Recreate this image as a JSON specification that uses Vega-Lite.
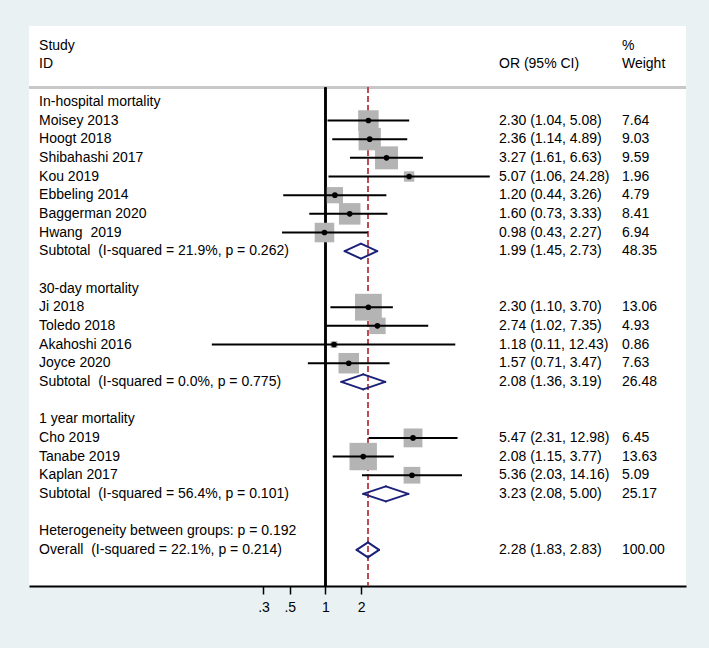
{
  "$schema": "https://vega.github.io/schema/vega-lite/v6.json",
  "width": 657,
  "height": 560,
  "autosize": {"type": "none"},
  "padding": {"left": 29, "top": 26, "right": 23, "bottom": 62},
  "background": "#eaf1f3",
  "config": {
    "view": {"fill": "white", "stroke": null},
    "text": {"font": "Liberation Sans", "fontSize": 14, "color": "#000000", "baseline": "middle", "align": "left"},
    "axis": {"labelFontSize": 14, "labelFont": "Liberation Sans"},
    "axisX": {"grid": false, "title": null,
              "labelExpr": "datum.value < 1 ? substring(format(datum.value, '.1f'), 1) : format(datum.value, 'd')",
              "domainColor": "#000000", "domainWidth": 2, "tickColor": "#000000", "tickWidth": 1.5, "tickSize": 8,
              "labelFont": "Liberation Sans", "labelFontSize": 14, "labelColor": "#000000", "labelPadding": 6, "labelFlush": false}
  },
  "data": {
    "values": [
      {"row": -3, "type": "header", "label": "Study", "ortext": "", "wtext": "%"},
      {"row": -2, "type": "header", "label": "ID", "ortext": "OR (95% CI)", "wtext": "Weight"},
      {"row": 0, "type": "group", "label": "In-hospital mortality", "ortext": "", "wtext": ""},
      {"row": 1, "type": "study", "label": "Moisey 2013", "or": 2.30, "lcl": 1.04, "ucl": 5.08, "weight": 7.64, "ortext": "2.30 (1.04, 5.08)", "wtext": "7.64"},
      {"row": 2, "type": "study", "label": "Hoogt 2018", "or": 2.36, "lcl": 1.14, "ucl": 4.89, "weight": 9.03, "ortext": "2.36 (1.14, 4.89)", "wtext": "9.03"},
      {"row": 3, "type": "study", "label": "Shibahashi 2017", "or": 3.27, "lcl": 1.61, "ucl": 6.63, "weight": 9.59, "ortext": "3.27 (1.61, 6.63)", "wtext": "9.59"},
      {"row": 4, "type": "study", "label": "Kou 2019", "or": 5.07, "lcl": 1.06, "ucl": 24.28, "weight": 1.96, "ortext": "5.07 (1.06, 24.28)", "wtext": "1.96"},
      {"row": 5, "type": "study", "label": "Ebbeling 2014", "or": 1.20, "lcl": 0.44, "ucl": 3.26, "weight": 4.79, "ortext": "1.20 (0.44, 3.26)", "wtext": "4.79"},
      {"row": 6, "type": "study", "label": "Baggerman 2020", "or": 1.60, "lcl": 0.73, "ucl": 3.33, "weight": 8.41, "ortext": "1.60 (0.73, 3.33)", "wtext": "8.41"},
      {"row": 7, "type": "study", "label": "Hwang\u00a0 2019", "or": 0.98, "lcl": 0.43, "ucl": 2.27, "weight": 6.94, "ortext": "0.98 (0.43, 2.27)", "wtext": "6.94"},
      {"row": 8, "type": "sub", "label": "Subtotal\u00a0 (I-squared = 21.9%, p = 0.262)", "or": 1.99, "lcl": 1.45, "ucl": 2.73, "weight": 48.35, "ortext": "1.99 (1.45, 2.73)", "wtext": "48.35"},
      {"row": 10, "type": "group", "label": "30-day mortality", "ortext": "", "wtext": ""},
      {"row": 11, "type": "study", "label": "Ji 2018", "or": 2.30, "lcl": 1.10, "ucl": 3.70, "weight": 13.06, "ortext": "2.30 (1.10, 3.70)", "wtext": "13.06"},
      {"row": 12, "type": "study", "label": "Toledo 2018", "or": 2.74, "lcl": 1.02, "ucl": 7.35, "weight": 4.93, "ortext": "2.74 (1.02, 7.35)", "wtext": "4.93"},
      {"row": 13, "type": "study", "label": "Akahoshi 2016", "or": 1.18, "lcl": 0.11, "ucl": 12.43, "weight": 0.86, "ortext": "1.18 (0.11, 12.43)", "wtext": "0.86"},
      {"row": 14, "type": "study", "label": "Joyce 2020", "or": 1.57, "lcl": 0.71, "ucl": 3.47, "weight": 7.63, "ortext": "1.57 (0.71, 3.47)", "wtext": "7.63"},
      {"row": 15, "type": "sub", "label": "Subtotal\u00a0 (I-squared = 0.0%, p = 0.775)", "or": 2.08, "lcl": 1.36, "ucl": 3.19, "weight": 26.48, "ortext": "2.08 (1.36, 3.19)", "wtext": "26.48"},
      {"row": 17, "type": "group", "label": "1 year mortality", "ortext": "", "wtext": ""},
      {"row": 18, "type": "study", "label": "Cho 2019", "or": 5.47, "lcl": 2.31, "ucl": 12.98, "weight": 6.45, "ortext": "5.47 (2.31, 12.98)", "wtext": "6.45"},
      {"row": 19, "type": "study", "label": "Tanabe 2019", "or": 2.08, "lcl": 1.15, "ucl": 3.77, "weight": 13.63, "ortext": "2.08 (1.15, 3.77)", "wtext": "13.63"},
      {"row": 20, "type": "study", "label": "Kaplan 2017", "or": 5.36, "lcl": 2.03, "ucl": 14.16, "weight": 5.09, "ortext": "5.36 (2.03, 14.16)", "wtext": "5.09"},
      {"row": 21, "type": "sub", "label": "Subtotal\u00a0 (I-squared = 56.4%, p = 0.101)", "or": 3.23, "lcl": 2.08, "ucl": 5.00, "weight": 25.17, "ortext": "3.23 (2.08, 5.00)", "wtext": "25.17"},
      {"row": 23, "type": "het", "label": "Heterogeneity between groups: p = 0.192", "ortext": "", "wtext": ""},
      {"row": 24, "type": "overall", "label": "Overall\u00a0 (I-squared = 22.1%, p = 0.214)", "or": 2.28, "lcl": 1.83, "ucl": 2.83, "weight": 100.0, "ortext": "2.28 (1.83, 2.83)", "wtext": "100.00"}
    ]
  },
  "layer": [
    {
      "mark": {"type": "rule", "color": "#c8c8c8", "strokeWidth": 1.5},
      "encoding": {
        "y": {"datum": -0.77, "type": "quantitative", "scale": {"domain": [-4.062, 25.933], "reverse": true, "nice": false, "zero": false}, "axis": null}
      }
    },
    {
      "mark": {"type": "rule", "color": "#000000", "strokeWidth": 1.2},
      "encoding": {
        "x": {"datum": 1, "type": "quantitative",
              "scale": {"type": "log", "domain": [0.0031597, 1096.63], "nice": false, "zero": false},
              "axis": {"values": [0.3, 0.5, 1, 2], "title": null, "labelFontSize": 14}},
        "y": {"datum": -0.77, "type": "quantitative", "axis": null},
        "y2": {"datum": 25.933}
      }
    },
    {
      "mark": {"type": "rule", "color": "#bd4c55", "strokeWidth": 1.5, "strokeDash": [5, 4]},
      "encoding": {
        "x": {"datum": 2.28, "type": "quantitative", "axis": {"values": [0.3, 0.5, 1, 2], "title": null, "labelFontSize": 14}},
        "y": {"datum": -0.77, "type": "quantitative", "axis": null},
        "y2": {"datum": 25.933}
      }
    },
    {
      "transform": [{"filter": "datum.type === 'study'"}],
      "mark": {"type": "square", "filled": true, "color": "#b4b4b4", "opacity": 1},
      "encoding": {
        "x": {"field": "or", "type": "quantitative", "axis": {"values": [0.3, 0.5, 1, 2], "title": null, "labelFontSize": 14}},
        "y": {"field": "row", "type": "quantitative", "axis": null},
        "size": {"field": "weight", "type": "quantitative", "scale": {"domain": [0, 13.63], "range": [0, 750], "zero": true}, "legend": null}
      }
    },
    {
      "transform": [{"filter": "datum.type === 'study'"}],
      "mark": {"type": "rule", "color": "#000000", "strokeWidth": 2},
      "encoding": {
        "x": {"field": "lcl", "type": "quantitative", "axis": {"values": [0.3, 0.5, 1, 2], "title": null, "labelFontSize": 14}},
        "x2": {"field": "ucl"},
        "y": {"field": "row", "type": "quantitative", "axis": null}
      }
    },
    {
      "transform": [{"filter": "datum.type === 'study'"}],
      "mark": {"type": "circle", "color": "#000000", "size": 32, "opacity": 1},
      "encoding": {
        "x": {"field": "or", "type": "quantitative", "axis": {"values": [0.3, 0.5, 1, 2], "title": null, "labelFontSize": 14}},
        "y": {"field": "row", "type": "quantitative", "axis": null}
      }
    },
    {
      "transform": [{"filter": "datum.type === 'sub' || datum.type === 'overall'"}],
      "mark": {"type": "rule", "color": "#1b2178", "strokeWidth": 2, "strokeCap": "round", "y2Offset": -7.5},
      "encoding": {
        "x": {"field": "lcl", "type": "quantitative", "axis": {"values": [0.3, 0.5, 1, 2], "title": null, "labelFontSize": 14}},
        "x2": {"field": "or"},
        "y": {"field": "row", "type": "quantitative", "axis": null},
        "y2": {"field": "row"}
      }
    },
    {
      "transform": [{"filter": "datum.type === 'sub' || datum.type === 'overall'"}],
      "mark": {"type": "rule", "color": "#1b2178", "strokeWidth": 2, "strokeCap": "round", "y2Offset": 7.5},
      "encoding": {
        "x": {"field": "lcl", "type": "quantitative", "axis": {"values": [0.3, 0.5, 1, 2], "title": null, "labelFontSize": 14}},
        "x2": {"field": "or"},
        "y": {"field": "row", "type": "quantitative", "axis": null},
        "y2": {"field": "row"}
      }
    },
    {
      "transform": [{"filter": "datum.type === 'sub' || datum.type === 'overall'"}],
      "mark": {"type": "rule", "color": "#1b2178", "strokeWidth": 2, "strokeCap": "round", "y2Offset": -7.5},
      "encoding": {
        "x": {"field": "ucl", "type": "quantitative", "axis": {"values": [0.3, 0.5, 1, 2], "title": null, "labelFontSize": 14}},
        "x2": {"field": "or"},
        "y": {"field": "row", "type": "quantitative", "axis": null},
        "y2": {"field": "row"}
      }
    },
    {
      "transform": [{"filter": "datum.type === 'sub' || datum.type === 'overall'"}],
      "mark": {"type": "rule", "color": "#1b2178", "strokeWidth": 2, "strokeCap": "round", "y2Offset": 7.5},
      "encoding": {
        "x": {"field": "ucl", "type": "quantitative", "axis": {"values": [0.3, 0.5, 1, 2], "title": null, "labelFontSize": 14}},
        "x2": {"field": "or"},
        "y": {"field": "row", "type": "quantitative", "axis": null},
        "y2": {"field": "row"}
      }
    },
    {
      "mark": {"type": "text"},
      "encoding": {
        "x": {"datum": 0.00384, "type": "quantitative", "axis": {"values": [0.3, 0.5, 1, 2], "title": null, "labelFontSize": 14}},
        "y": {"field": "row", "type": "quantitative", "axis": null},
        "text": {"field": "label"}
      }
    },
    {
      "mark": {"type": "text"},
      "encoding": {
        "x": {"datum": 29.05, "type": "quantitative", "axis": {"values": [0.3, 0.5, 1, 2], "title": null, "labelFontSize": 14}},
        "y": {"field": "row", "type": "quantitative", "axis": null},
        "text": {"field": "ortext"}
      }
    },
    {
      "mark": {"type": "text"},
      "encoding": {
        "x": {"datum": 316.3, "type": "quantitative", "axis": {"values": [0.3, 0.5, 1, 2], "title": null, "labelFontSize": 14}},
        "y": {"field": "row", "type": "quantitative", "axis": null},
        "text": {"field": "wtext"}
      }
    }
  ]
}
